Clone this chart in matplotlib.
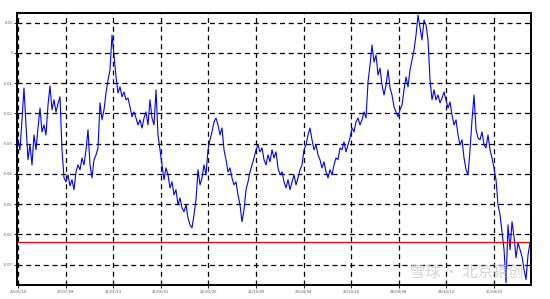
import numpy as np
import matplotlib
matplotlib.use("Agg")
import matplotlib.pyplot as plt

plt.rcParams['font.family'] = ['Noto Sans CJK SC', 'DejaVu Sans']

# ----- Data -----
spread = [
    -0.0287, -0.0320, -0.0221, -0.0116, -0.0238, -0.0353, -0.0304, -0.0370, -0.0271, -0.0320,
    -0.0248, -0.0182, -0.0261, -0.0238, -0.0271, -0.0172, -0.0109, -0.0188, -0.0155, -0.0195,
    -0.0168, -0.0145, -0.0320, -0.0413, -0.0426, -0.0403, -0.0439, -0.0419, -0.0452, -0.0393,
    -0.0370, -0.0386, -0.0347, -0.0370, -0.0320, -0.0254, -0.0370, -0.0413, -0.0353, -0.0337,
    -0.0314, -0.0165, -0.0221, -0.0188, -0.0132, -0.0089, -0.0056, 0.0059, -0.0007, -0.0079,
    -0.0132, -0.0112, -0.0145, -0.0129, -0.0155, -0.0149, -0.0178, -0.0211, -0.0195, -0.0215,
    -0.0238, -0.0221, -0.0248, -0.0215, -0.0195, -0.0238, -0.0155, -0.0215, -0.0238, -0.0122,
    -0.0271, -0.0320, -0.0370, -0.0419, -0.0380, -0.0403, -0.0446, -0.0426, -0.0469, -0.0452,
    -0.0502, -0.0479, -0.0512, -0.0525, -0.0502, -0.0545, -0.0568, -0.0578, -0.0535, -0.0485,
    -0.0386, -0.0436, -0.0413, -0.0370, -0.0403, -0.0320, -0.0287, -0.0261, -0.0228, -0.0215,
    -0.0238, -0.0271, -0.0248, -0.0320, -0.0353, -0.0393, -0.0380, -0.0413, -0.0436, -0.0426,
    -0.0469, -0.0502, -0.0558, -0.0518, -0.0452, -0.0426, -0.0393, -0.0370, -0.0347, -0.0320,
    -0.0304, -0.0327, -0.0314, -0.0353, -0.0370, -0.0337, -0.0360, -0.0320, -0.0347, -0.0327,
    -0.0380, -0.0403, -0.0393, -0.0426, -0.0446, -0.0419, -0.0452, -0.0426, -0.0403, -0.0436,
    -0.0413, -0.0386, -0.0370, -0.0320, -0.0304, -0.0271, -0.0248, -0.0287, -0.0320, -0.0304,
    -0.0337, -0.0353, -0.0380, -0.0360, -0.0393, -0.0413, -0.0386, -0.0403, -0.0370, -0.0347,
    -0.0353, -0.0314, -0.0320, -0.0294, -0.0327, -0.0304, -0.0281, -0.0248, -0.0261, -0.0228,
    -0.0215, -0.0238, -0.0221, -0.0195, -0.0215, -0.0096, -0.0040, 0.0026, -0.0030, -0.0007,
    -0.0073, -0.0050, -0.0106, -0.0139, -0.0106, -0.0056, -0.0116, -0.0139, -0.0178, -0.0195,
    -0.0211, -0.0188, -0.0172, -0.0122, -0.0079, -0.0112, -0.0056, -0.0023, 0.0010, 0.0059,
    0.0125, 0.0083, 0.0043, 0.0109, 0.0092, 0.0043, -0.0089, -0.0155, -0.0122, -0.0155,
    -0.0139, -0.0165, -0.0149, -0.0129, -0.0155, -0.0182, -0.0162, -0.0205, -0.0238, -0.0221,
    -0.0271, -0.0304, -0.0287, -0.0347, -0.0386, -0.0403, -0.0320, -0.0221, -0.0139, -0.0254,
    -0.0281, -0.0287, -0.0261, -0.0304, -0.0314, -0.0271, -0.0320, -0.0347, -0.0380, -0.0419,
    -0.0502, -0.0535, -0.0594, -0.0650, -0.0759, -0.0568, -0.0650, -0.0558, -0.0607, -0.0677,
    -0.0627, -0.0650, -0.0673, -0.0716, -0.0749, -0.0667, -0.0627,
]
threshold = -0.0624

y_ticks = [0.01, 0, -0.01, -0.02, -0.03, -0.04, -0.05, -0.06, -0.07]
y_labels = ["0.01", "0", "-0.01", "-0.02", "-0.03", "-0.04", "-0.05", "-0.06", "-0.07"]
x_labels = ["20/01/10", "20/07/08", "21/01/13", "21/06/01", "22/03/26", "22/10/09",
            "23/04/04", "23/10/10", "24/04/08", "24/10/12", "25/04/03"]

# ----- Plot -----
fig = plt.figure(figsize=(5.5, 2.99), dpi=100)
ax = fig.add_axes([0.0318, 0.0468, 0.9337, 0.9097])

x = np.arange(len(spread))
ax.plot(x, spread, color='#0000ff', linewidth=0.8)
ax.axhline(threshold, color='#ff0000', linewidth=0.9)

ax.set_xlim(-0.25, len(spread) - 0.5)
ax.set_ylim(-0.0767, 0.0132)

ax.set_xticks(np.arange(len(x_labels)) * 23.8)
ax.set_xticklabels(x_labels, fontsize=3, color='#555577')
ax.set_yticks(y_ticks)
ax.set_yticklabels(y_labels, fontsize=3, color='#555577')
ax.tick_params(length=2, width=0.6, pad=1.5)

ax.grid(True, color='black', linestyle=(0, (4, 3)), linewidth=0.9)
for s in ax.spines.values():
    s.set_linewidth(1.4)

# watermark, kept inside the plot area just above the date labels
ax.text(0.985, 0.015, "雪球 · 北京猿创", transform=ax.transAxes, fontsize=11,
        color='#c8c8c8', alpha=0.8, ha='right', va='bottom', zorder=5)

fig.savefig("out.png", dpi=100)
